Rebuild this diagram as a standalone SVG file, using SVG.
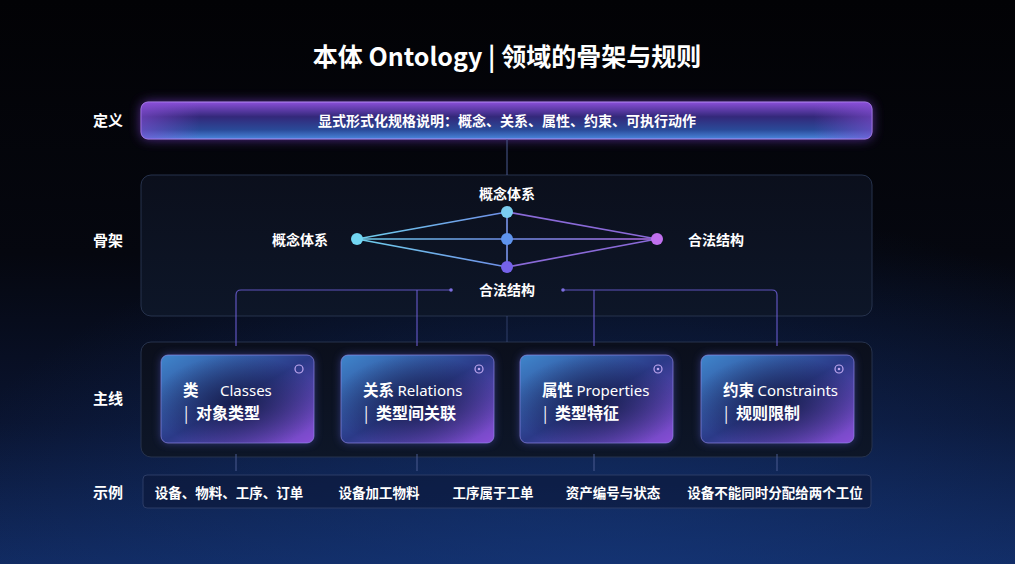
<svg xmlns="http://www.w3.org/2000/svg" width="1015" height="564" viewBox="0 0 1015 564">
<defs>
<style>
.cjk{font-family:"Noto Sans CJK SC","Liberation Sans",sans-serif;fill:#ffffff}
.title{font-size:25px;font-weight:700}
.side{font-size:15px;font-weight:700;text-anchor:middle}
.def{font-size:14px;font-weight:700;text-anchor:middle}
.nlab{font-size:14px;font-weight:700;text-anchor:middle}
.c1{font-size:15.5px;font-weight:700}
.en{font-family:"Noto Sans","Liberation Sans",sans-serif;font-weight:400;font-size:15px}
.c2{font-size:16px;font-weight:700}
.bar{font-weight:400}
.ex{font-size:13.5px;font-weight:700;text-anchor:middle}
.panel{fill:url(#panelG);stroke:#26324c;stroke-width:1}
.card{fill:url(#cardG);stroke:#9a8ff0;stroke-opacity:0.6;stroke-width:1}
.cardshade{fill:url(#cardShade)}
.conn{fill:none;stroke:#6f5fd8;stroke-width:1.2;stroke-opacity:0.85}
.stub{stroke:#4a5a90;stroke-width:1}
</style>
<linearGradient id="bgG" x1="0" y1="0" x2="0" y2="1">
<stop offset="0" stop-color="#020205"/>
<stop offset="0.45" stop-color="#05070f"/>
<stop offset="0.75" stop-color="#0a1430"/>
<stop offset="1" stop-color="#112a60"/>
</linearGradient>
<radialGradient id="bgR" cx="0.6" cy="1.05" r="0.7">
<stop offset="0" stop-color="#163a80" stop-opacity="0.6"/>
<stop offset="1" stop-color="#163a80" stop-opacity="0"/>
</radialGradient>
<linearGradient id="panelG" x1="0" y1="0" x2="0" y2="1">
<stop offset="0" stop-color="#0b0f1c"/>
<stop offset="1" stop-color="#0d1628"/>
</linearGradient>
<linearGradient id="defG" x1="0" y1="0" x2="0" y2="1">
<stop offset="0" stop-color="#8a4fd8"/>
<stop offset="0.4" stop-color="#33287a"/>
<stop offset="0.75" stop-color="#2a4a98"/>
<stop offset="1" stop-color="#4a86dc"/>
</linearGradient>
<linearGradient id="defSide" x1="0" y1="0" x2="1" y2="0">
<stop offset="0" stop-color="#8a4fd8" stop-opacity="0.55"/>
<stop offset="0.08" stop-color="#8a4fd8" stop-opacity="0"/>
<stop offset="0.92" stop-color="#8a4fd8" stop-opacity="0"/>
<stop offset="1" stop-color="#8a4fd8" stop-opacity="0.55"/>
</linearGradient>
<linearGradient id="cardG" x1="0" y1="0" x2="1" y2="1">
<stop offset="0" stop-color="#3f86cc"/>
<stop offset="0.5" stop-color="#2b3a88"/>
<stop offset="1" stop-color="#8a4ed8"/>
</linearGradient>
<radialGradient id="cardShade" cx="0.5" cy="0.55" r="0.55">
<stop offset="0" stop-color="#10153a" stop-opacity="0.75"/>
<stop offset="1" stop-color="#10153a" stop-opacity="0"/>
</radialGradient>
<linearGradient id="lineG" x1="357" y1="0" x2="657" y2="0" gradientUnits="userSpaceOnUse">
<stop offset="0" stop-color="#6fd0ec"/>
<stop offset="0.5" stop-color="#6f8fe8"/>
<stop offset="1" stop-color="#b46ae8"/>
</linearGradient>
<filter id="glow" x="-10%" y="-60%" width="120%" height="220%">
<feGaussianBlur stdDeviation="6"/>
</filter>
<filter id="cglow" x="-20%" y="-20%" width="140%" height="140%">
<feGaussianBlur stdDeviation="4"/>
</filter>
</defs>

<rect x="0" y="0" width="1015" height="564" fill="url(#bgG)"/>
<rect x="0" y="0" width="1015" height="564" fill="url(#bgR)"/>

<g id="title">
<text class="cjk title" x="507" y="66" text-anchor="middle">本体 Ontology | 领域的骨架与规则</text>
</g>

<g id="side-labels">
<text class="cjk side" x="108" y="126">定义</text>
<text class="cjk side" x="108" y="246">骨架</text>
<text class="cjk side" x="108" y="404">主线</text>
<text class="cjk side" x="108" y="498">示例</text>
</g>

<g id="definition">
<rect x="141" y="102" width="731" height="37" rx="7" fill="#7a40d0" filter="url(#glow)" opacity="0.7"/>
<rect x="141" y="102" width="731" height="37" rx="7" fill="url(#defG)" stroke="#b08af0" stroke-width="1"/>
<rect x="141" y="102" width="731" height="37" rx="7" fill="url(#defSide)"/>
<text class="cjk def" x="507" y="126">显式形式化规格说明：概念、关系、属性、约束、可执行动作</text>
</g>

<g id="skeleton-panel">
<rect class="panel" x="141" y="175" width="731" height="141" rx="10"/>
</g>

<g id="mainline">
<rect class="panel" x="141" y="342" width="731" height="115" rx="10"/>
</g>

<g id="connectors">
<line class="stub" x1="507" y1="139" x2="507" y2="175" stroke="#5a6688"/>
<line class="stub" x1="507" y1="316" x2="507" y2="342" stroke-opacity="0.6"/>
<path class="conn" d="M236,346 V295 Q236,290 241,290 H451"/>
<circle cx="451" cy="290" r="1.8" fill="#7d6ee0"/>
<path class="conn" d="M563,290 H772 Q777,290 777,295 V346"/>
<circle cx="563" cy="290" r="1.8" fill="#7d6ee0"/>
<line class="conn" x1="417" y1="290" x2="417" y2="346"/>
<line class="conn" x1="594" y1="290" x2="594" y2="346"/>
<line class="stub" x1="236" y1="454" x2="236" y2="471"/>
<line class="stub" x1="417" y1="454" x2="417" y2="471"/>
<line class="stub" x1="594" y1="454" x2="594" y2="471"/>
<line class="stub" x1="777" y1="454" x2="777" y2="471"/>
</g>

<g id="skeleton">
<g id="diamond">
<line x1="357" y1="239" x2="507" y2="212" stroke="url(#lineG)" stroke-width="1.6"/>
<line x1="357" y1="239" x2="657" y2="239" stroke="url(#lineG)" stroke-width="1.6"/>
<line x1="357" y1="239" x2="507" y2="267" stroke="url(#lineG)" stroke-width="1.6"/>
<line x1="507" y1="212" x2="657" y2="239" stroke="#8a6ad8" stroke-width="1.6"/>
<line x1="507" y1="267" x2="657" y2="239" stroke="#8a6ad8" stroke-width="1.6"/>
<line x1="507" y1="212" x2="507" y2="267" stroke="#7a96ec" stroke-width="1.6"/>
<circle cx="357" cy="239" r="6" fill="#72d6f2"/>
<circle cx="507" cy="212" r="6" fill="#7acdf0"/>
<circle cx="507" cy="239" r="6" fill="#5f94ee"/>
<circle cx="507" cy="267" r="6" fill="#7562ea"/>
<circle cx="657" cy="239" r="6" fill="#c070ee"/>
</g>
<text class="cjk nlab" x="507" y="199">概念体系</text>
<text class="cjk nlab" x="300" y="245">概念体系</text>
<text class="cjk nlab" x="716" y="245">合法结构</text>
<text class="cjk nlab" x="507" y="295">合法结构</text>
</g>

<g id="card-classes">
<rect x="161" y="355" width="153" height="88" rx="7" fill="#5a5fd8" filter="url(#cglow)" opacity="0.5"/>
<rect class="card" x="161" y="355" width="153" height="88" rx="7"/>
<rect class="cardshade" x="161" y="355" width="153" height="88" rx="7"/>
<circle cx="299" cy="369" r="4" fill="none" stroke="#c0a8f0" stroke-width="1.2"/>
<text class="cjk c1" x="183" y="396">类<tspan class="en" x="220">Classes</tspan></text>
<text class="cjk c2" x="184" y="419"><tspan class="bar">|</tspan><tspan x="196">对象类型</tspan></text>
</g>

<g id="card-relations">
<rect x="341" y="355" width="153" height="88" rx="7" fill="#5a5fd8" filter="url(#cglow)" opacity="0.5"/>
<rect class="card" x="341" y="355" width="153" height="88" rx="7"/>
<rect class="cardshade" x="341" y="355" width="153" height="88" rx="7"/>
<circle cx="479" cy="369" r="4" fill="none" stroke="#c0a8f0" stroke-width="1.2"/>
<circle cx="479" cy="369" r="1.3" fill="#c0a8f0"/>
<text class="cjk c1" x="363" y="396">关系 <tspan class="en">Relations</tspan></text>
<text class="cjk c2" x="364" y="419"><tspan class="bar">|</tspan><tspan x="376">类型间关联</tspan></text>
</g>

<g id="card-properties">
<rect x="520" y="355" width="153" height="88" rx="7" fill="#5a5fd8" filter="url(#cglow)" opacity="0.5"/>
<rect class="card" x="520" y="355" width="153" height="88" rx="7"/>
<rect class="cardshade" x="520" y="355" width="153" height="88" rx="7"/>
<circle cx="658" cy="369" r="4" fill="none" stroke="#c0a8f0" stroke-width="1.2"/>
<circle cx="658" cy="369" r="1.3" fill="#c0a8f0"/>
<text class="cjk c1" x="542" y="396">属性 <tspan class="en">Properties</tspan></text>
<text class="cjk c2" x="543" y="419"><tspan class="bar">|</tspan><tspan x="555">类型特征</tspan></text>
</g>

<g id="card-constraints">
<rect x="701" y="355" width="153" height="88" rx="7" fill="#5a5fd8" filter="url(#cglow)" opacity="0.5"/>
<rect class="card" x="701" y="355" width="153" height="88" rx="7"/>
<rect class="cardshade" x="701" y="355" width="153" height="88" rx="7"/>
<circle cx="839" cy="369" r="4" fill="none" stroke="#c0a8f0" stroke-width="1.2"/>
<circle cx="839" cy="369" r="1.3" fill="#c0a8f0"/>
<text class="cjk c1" x="723" y="396">约束 <tspan class="en">Constraints</tspan></text>
<text class="cjk c2" x="724" y="419"><tspan class="bar">|</tspan><tspan x="736">规则限制</tspan></text>
</g>

<g id="examples">
<rect x="143" y="475" width="728" height="33" rx="4" fill="#0c1838" fill-opacity="0.6" stroke="#2c3c66" stroke-width="1"/>
<text class="cjk ex" x="229" y="498">设备、物料、工序、订单</text>
<text class="cjk ex" x="379" y="498">设备加工物料</text>
<text class="cjk ex" x="493" y="498">工序属于工单</text>
<text class="cjk ex" x="613" y="498">资产编号与状态</text>
<text class="cjk ex" x="775" y="498">设备不能同时分配给两个工位</text>
</g>
</svg>
